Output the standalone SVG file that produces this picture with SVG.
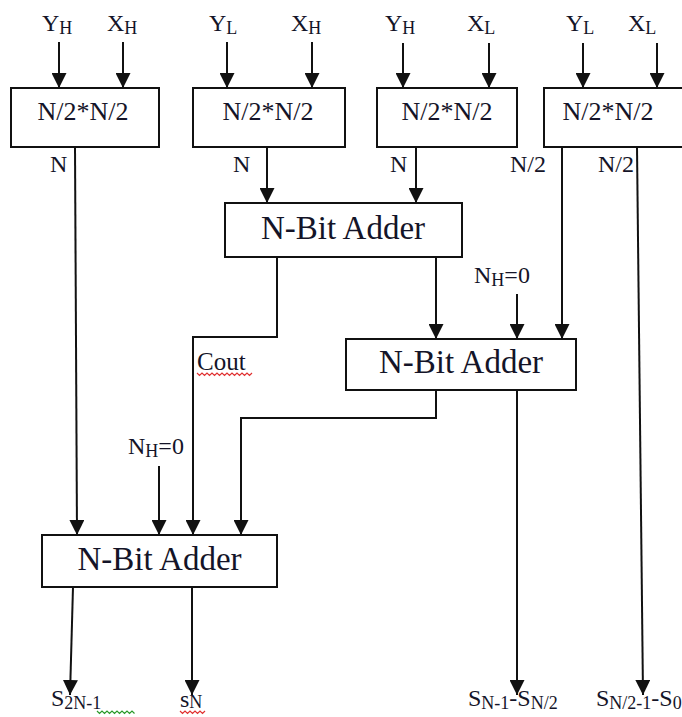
<svg xmlns="http://www.w3.org/2000/svg" width="682" height="717" viewBox="0 0 682 717">
<style>
.box{fill:#fff;stroke:#111;stroke-width:2}
.wire{fill:none;stroke:#111;stroke-width:2}
.t{font-family:"Liberation Serif","Times New Roman",serif;fill:#141428}
.mul{font-size:26px;text-anchor:middle}
.add{font-size:33px;text-anchor:middle}
.lbl{font-size:24px}
.sub{font-size:18px}
.squig{fill:none;stroke-width:1.2}
</style>
<defs>
<marker id="ah" markerUnits="userSpaceOnUse" markerWidth="15" markerHeight="15" refX="15" refY="7.5" orient="auto">
<path d="M0,0 L15,7.5 L0,15 z" fill="#111"/>
</marker>
</defs>
<rect width="682" height="717" fill="#fff"/>

<g id="inputs">
<text class="t lbl" x="42" y="31">Y<tspan class="sub" dy="3">H</tspan></text>
<text class="t lbl" x="107" y="31">X<tspan class="sub" dy="3">H</tspan></text>
<text class="t lbl" x="209" y="31">Y<tspan class="sub" dy="3">L</tspan></text>
<text class="t lbl" x="291" y="31">X<tspan class="sub" dy="3">H</tspan></text>
<text class="t lbl" x="385" y="31">Y<tspan class="sub" dy="3">H</tspan></text>
<text class="t lbl" x="467" y="31">X<tspan class="sub" dy="3">L</tspan></text>
<text class="t lbl" x="566" y="31">Y<tspan class="sub" dy="3">L</tspan></text>
<text class="t lbl" x="628" y="31">X<tspan class="sub" dy="3">L</tspan></text>
</g>

<g id="mul1"><rect class="box" x="11" y="88" width="148" height="59"/><text class="t mul" x="83" y="120">N/2*N/2</text></g>
<g id="mul2"><rect class="box" x="193" y="88" width="152" height="59"/><text class="t mul" x="268" y="120">N/2*N/2</text></g>
<g id="mul3"><rect class="box" x="377" y="88" width="140" height="59"/><text class="t mul" x="447" y="120">N/2*N/2</text></g>
<g id="mul4"><rect class="box" x="544" y="88" width="150" height="59"/><text class="t mul" x="608" y="120">N/2*N/2</text></g>

<g id="adder1"><rect class="box" x="225" y="203" width="237" height="54"/><text class="t add" x="343" y="239">N-Bit Adder</text></g>
<g id="adder2"><rect class="box" x="346" y="339" width="230" height="51"/><text class="t add" x="461" y="373">N-Bit Adder</text></g>
<g id="adder3"><rect class="box" x="42" y="535" width="235" height="52"/><text class="t add" x="159.5" y="570">N-Bit Adder</text></g>

<g id="connectors">
<path class="wire" marker-end="url(#ah)" d="M59,42 V88"/>
<path class="wire" marker-end="url(#ah)" d="M123,42 V88"/>
<path class="wire" marker-end="url(#ah)" d="M227,42 V88"/>
<path class="wire" marker-end="url(#ah)" d="M312,42 V88"/>
<path class="wire" marker-end="url(#ah)" d="M403,43 V88"/>
<path class="wire" marker-end="url(#ah)" d="M489,43 V88"/>
<path class="wire" marker-end="url(#ah)" d="M583,43 V88"/>
<path class="wire" marker-end="url(#ah)" d="M657,43 V88"/>
<path class="wire" marker-end="url(#ah)" d="M75,147 L77,535"/>
<path class="wire" marker-end="url(#ah)" d="M267,147 V203"/>
<path class="wire" marker-end="url(#ah)" d="M416,147 V203"/>
<path class="wire" marker-end="url(#ah)" d="M562,147 V339"/>
<path class="wire" marker-end="url(#ah)" d="M637,147 L643,695"/>
<path class="wire" marker-end="url(#ah)" d="M277,257 V337 H193 V535"/>
<path class="wire" marker-end="url(#ah)" d="M436,257 V339"/>
<path class="wire" marker-end="url(#ah)" d="M517,294 V339"/>
<path class="wire" marker-end="url(#ah)" d="M436,390 V418 H241 V535"/>
<path class="wire" marker-end="url(#ah)" d="M517,390 V695"/>
<path class="wire" marker-end="url(#ah)" d="M159,466 V535"/>
<path class="wire" marker-end="url(#ah)" d="M73,587 L70,695"/>
<path class="wire" marker-end="url(#ah)" d="M192,587 V695"/>
</g>

<g id="labels">
<text class="t lbl" x="50" y="172">N</text>
<text class="t lbl" x="233" y="172">N</text>
<text class="t lbl" x="390" y="172">N</text>
<text class="t lbl" x="510" y="172">N/2</text>
<text class="t lbl" x="598" y="172">N/2</text>
<text class="t lbl" x="197" y="370" style="font-size:25px">Cout</text>
<path class="squig" stroke="#e03030" d="M197,373 l2.5,2.5 l2.5,-2.5 l2.5,2.5 l2.5,-2.5 l2.5,2.5 l2.5,-2.5 l2.5,2.5 l2.5,-2.5 l2.5,2.5 l2.5,-2.5 l2.5,2.5 l2.5,-2.5 l2.5,2.5 l2.5,-2.5 l2.5,2.5 l2.5,-2.5 l2.5,2.5 l2.5,-2.5 l2.5,2.5 l2.5,-2.5 l2.5,2.5 l2.5,-2.5"/>
<text class="t lbl" x="474" y="283">N<tspan class="sub" dy="3">H</tspan><tspan dy="-3">=0</tspan></text>
<text class="t lbl" x="128" y="454">N<tspan class="sub" dy="3">H</tspan><tspan dy="-3">=0</tspan></text>
<text class="t lbl" x="51" y="706">S<tspan class="sub" dy="3">2N-1</tspan></text>
<path class="squig" stroke="#2a9a2a" d="M97,711 l2.5,2.5 l2.5,-2.5 l2.5,2.5 l2.5,-2.5 l2.5,2.5 l2.5,-2.5 l2.5,2.5 l2.5,-2.5 l2.5,2.5 l2.5,-2.5 l2.5,2.5 l2.5,-2.5 l2.5,2.5 l2.5,-2.5 l2.5,2.5"/>
<text class="t lbl" x="180" y="707">s<tspan class="sub" dy="1">N</tspan></text>
<path class="squig" stroke="#e03030" d="M180,711 l2.5,2.5 l2.5,-2.5 l2.5,2.5 l2.5,-2.5 l2.5,2.5 l2.5,-2.5 l2.5,2.5 l2.5,-2.5 l2.5,2.5 l2.5,-2.5"/>
<text class="t lbl" x="468" y="706">S<tspan class="sub" dy="3">N-1</tspan><tspan dy="-3">-S</tspan><tspan class="sub" dy="3">N/2</tspan></text>
<text class="t lbl" x="596" y="706">S<tspan class="sub" dy="3">N/2-1</tspan><tspan dy="-3">-S</tspan><tspan class="sub" dy="3">0</tspan></text>
</g>
</svg>
